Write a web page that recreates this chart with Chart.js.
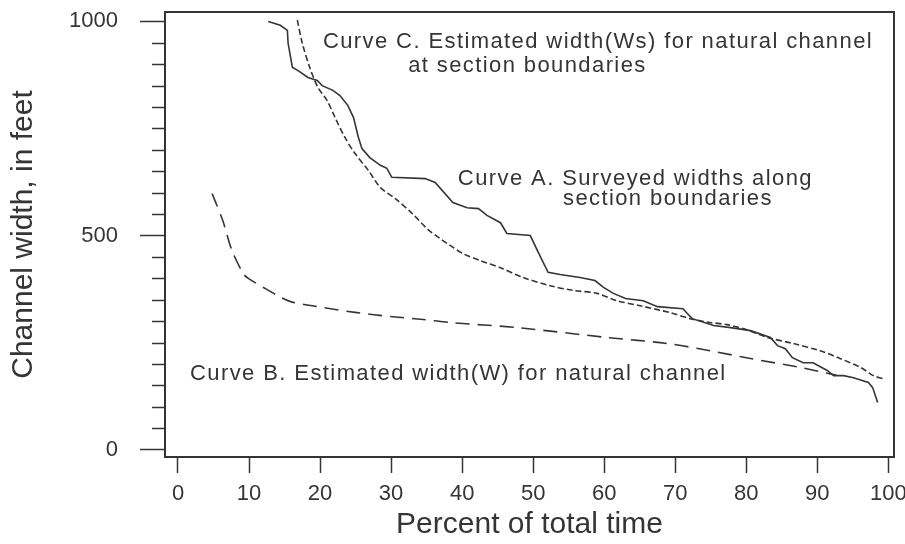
<!DOCTYPE html>
<html lang="en">
<head>
  <meta charset="UTF-8">
  <title>Channel width vs percent of total time</title>
  <script src="https://cdn.jsdelivr.net/npm/chart.js"></script>
  <style>
    body { margin: 0; padding: 0; background: #ffffff; }
    #wrap { width: 905px; height: 544px; }
  </style>
</head>
<body>
  <div id="wrap"><canvas id="chart" width="905" height="544"></canvas></div>

  <script>
    // Curve A - surveyed widths (solid)
    const pctA = [12.7, 14.4, 15.4, 15.5, 16.1, 16.9, 18.3, 19.6, 20.3, 21.8, 22.8, 23.9, 24.7, 25.4, 25.9, 27.0, 28.5, 29.4, 30.1, 34.8,
                  36.2, 38.7, 40.7, 42.3, 43.5, 45.4, 46.3, 49.6, 50.6, 52.1, 53.8, 56.6, 58.7, 59.9, 61.3, 63.0, 65.5, 67.5, 71.1, 71.7,
                  72.4, 75.4, 77.8, 80.6, 83.4, 84.4, 85.5, 86.5, 88.0, 89.4, 91.4, 92.3, 93.7, 95.1, 97.2, 97.8, 98.5];
    const widthA = [1000, 991, 979, 949, 893, 885, 869, 862, 850, 839, 827, 804, 776, 729, 703, 682, 664, 657, 636, 633,
                    624, 577, 565, 563, 547, 530, 505, 500, 465, 414, 409, 402, 395, 379, 365, 353, 348, 334, 329, 318,
                    306, 290, 285, 278, 262, 243, 236, 215, 203, 203, 185, 173, 173, 168, 157, 145, 110];

    // Curve B - estimated width W (long dashes)
    const pctB = [4.8, 6.3, 7.6, 9.2, 9.9, 12.0, 14.8, 16.2, 20.4, 25.2, 29.9, 34.5, 38.3, 47.8, 60.4, 68.9, 74.9, 80.6, 87.6, 92.7];
    const widthB = [598, 535, 465, 411, 400, 379, 353, 344, 332, 320, 311, 304, 297, 285, 262, 248, 231, 213, 192, 174];

    // Curve C - estimated width Ws (short dashes)
    const pctC = [16.8, 17.5, 18.6, 19.7, 21.0, 22.1, 23.5, 24.9, 26.8, 28.5, 30.6, 33.0, 35.2, 36.9, 38.3, 40.1, 42.5, 45.4, 48.6, 52.4,
                  55.6, 59.0, 61.8, 65.1, 69.3, 72.1, 74.9, 77.3, 80.1, 83.0, 86.6, 90.4, 93.2, 96.1, 97.9, 99.2];
    const widthC = [1003, 949, 890, 846, 815, 776, 729, 692, 652, 612, 586, 551, 514, 493, 477, 458, 442, 425, 402, 383,
                    372, 365, 348, 336, 320, 306, 297, 292, 280, 262, 248, 231, 213, 192, 173, 166];

    const xTicks = [0, 10, 20, 30, 40, 50, 60, 70, 80, 90, 100];
    const yTicks = [0, 500, 1000];
    const yMinorTicks = [50, 100, 150, 200, 250, 300, 350, 400, 450, 550, 600, 650, 700, 750, 800, 850, 900, 950];

    const notes = [
      { text: 'Curve C. Estimated width(Ws) for natural channel', x: 20.4, y: 951 },
      { text: 'at section boundaries', x: 32.4, y: 895 },
      { text: 'Curve A. Surveyed widths along', x: 39.4, y: 633 },
      { text: 'section boundaries', x: 54.2, y: 586 },
      { text: 'Curve B. Estimated width(W) for natural channel', x: 1.7, y: 178 }
    ];

    const ink = '#353535';
    const fam = "'Liberation Sans', Arial, sans-serif";
    const zip = (xs, ys) => xs.map((x, i) => ({ x, y: ys[i] }));

    // frame, minor ticks and the curve notes
    const extras = {
      id: 'extras',
      afterDraw(chart) {
        const { ctx, chartArea: a, scales: { x, y } } = chart;
        ctx.save();
        ctx.strokeStyle = ink;
        ctx.lineWidth = 2;
        ctx.strokeRect(a.left, a.top, a.right - a.left, a.bottom - a.top);
        ctx.lineWidth = 1.5;
        yMinorTicks.forEach(v => {
          const py = Math.round(y.getPixelForValue(v)) + 0.5;
          ctx.beginPath();
          ctx.moveTo(a.left - 13, py);
          ctx.lineTo(a.left, py);
          ctx.stroke();
        });
        ctx.fillStyle = ink;
        ctx.font = '22px ' + fam;
        ctx.letterSpacing = '1.4px';
        ctx.textAlign = 'left';
        ctx.textBaseline = 'middle';
        notes.forEach(n => ctx.fillText(n.text, x.getPixelForValue(n.x), y.getPixelForValue(n.y)));
        ctx.restore();
      }
    };

    new Chart(document.getElementById('chart'), {
      type: 'line',
      data: {
        datasets: [
          { label: 'Curve A', data: zip(pctA, widthA), borderColor: ink, borderWidth: 1.6, pointRadius: 0, tension: 0 },
          { label: 'Curve B', data: zip(pctB, widthB), borderColor: ink, borderWidth: 1.6, borderDash: [14, 8], pointRadius: 0, tension: 0.3 },
          { label: 'Curve C', data: zip(pctC, widthC), borderColor: ink, borderWidth: 1.6, borderDash: [6, 3], pointRadius: 0, tension: 0.3 }
        ]
      },
      options: {
        responsive: false,
        animation: false,
        layout: { padding: { left: 0, right: 11, top: 12, bottom: 0 } },
        plugins: { legend: { display: false }, tooltip: { enabled: false } },
        scales: {
          x: {
            type: 'linear', min: -1.83, max: 100.8,
            afterBuildTicks: s => { s.ticks = xTicks.map(v => ({ value: v })); },
            afterFit: s => { s.height = 87; s.paddingLeft = 0; s.paddingRight = 0; },
            grid: { drawOnChartArea: false, drawTicks: true, tickLength: 16, tickWidth: 1.5, tickColor: ink },
            border: { display: false },
            ticks: { color: ink, font: { family: fam, size: 22 }, padding: 8, maxRotation: 0, autoSkip: false, callback: v => String(v) },
            title: { display: true, text: 'Percent of total time', color: ink, font: { family: fam, size: 30 }, padding: { top: 0, bottom: 1 } }
          },
          y: {
            type: 'linear', min: -17, max: 1022,
            afterBuildTicks: s => { s.ticks = yTicks.map(v => ({ value: v })); },
            afterFit: s => { s.width = 165; s.paddingTop = 0; s.paddingBottom = 0; },
            grid: { drawOnChartArea: false, drawTicks: true, tickLength: 25, tickWidth: 1.5, tickColor: ink },
            border: { display: false },
            ticks: { color: ink, font: { family: fam, size: 22 }, padding: 22, callback: v => String(v) },
            title: { display: true, text: 'Channel width, in feet', color: ink, font: { family: fam, size: 30 }, padding: { top: 6, bottom: 0 } }
          }
        }
      },
      plugins: [extras]
    });
  </script>
</body>
</html>
